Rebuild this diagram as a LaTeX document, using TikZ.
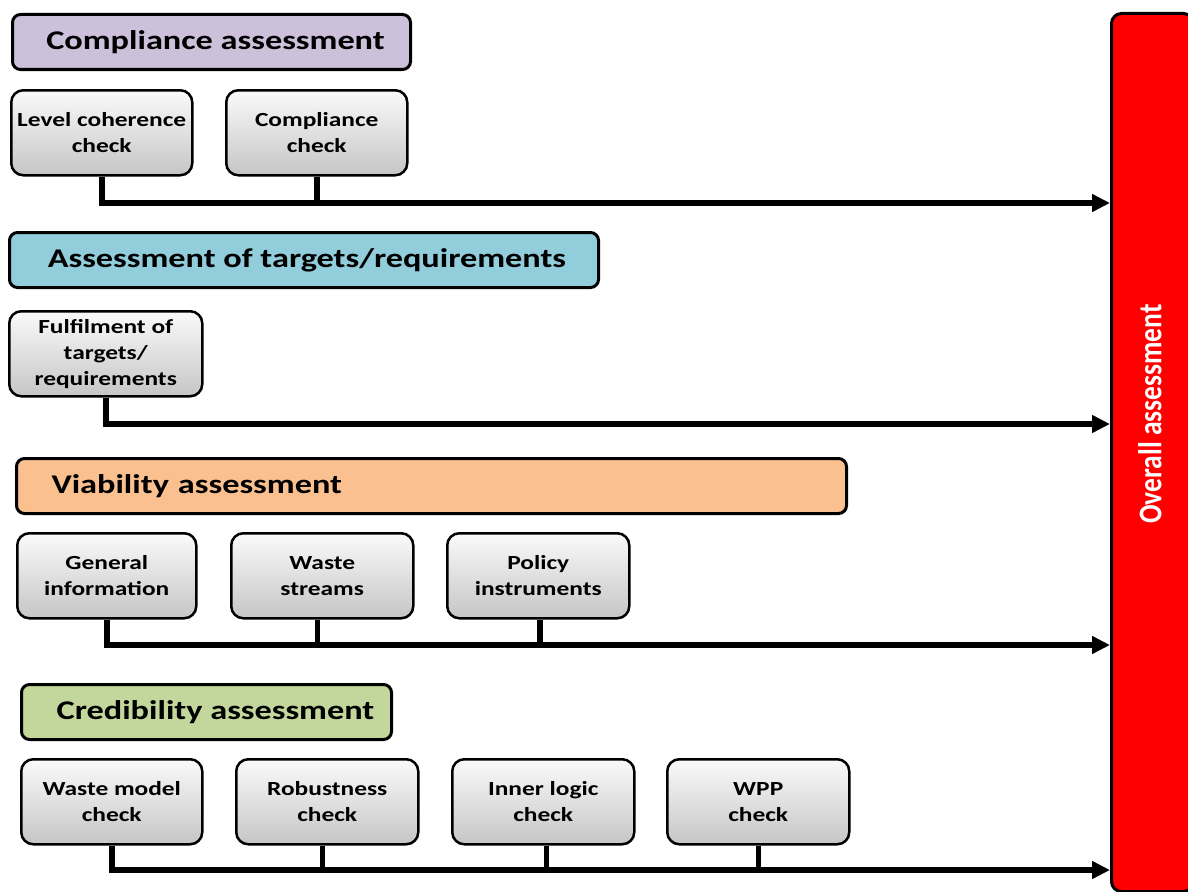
\documentclass[tikz,border=0pt]{standalone}
\usepackage{fontspec}
\setmainfont{Carlito}
\newfontfamily\wideb[FakeStretch=1.27]{Carlito}
\usetikzlibrary{arrows.meta}
\definecolor{lav}{HTML}{CCC0DA}
\definecolor{cyanh}{HTML}{92CDDC}
\definecolor{orah}{HTML}{FAC090}
\definecolor{greh}{HTML}{C3D69B}
\definecolor{redbar}{HTML}{FF0000}
\begin{document}
\begin{tikzpicture}[x=1pt,y=-1pt,
  header/.style={draw=black, line width=3pt, rounded corners=8pt, anchor=north west,
    minimum height=55pt, inner sep=0pt, font=\wideb\bfseries\fontsize{27}{30}\selectfont},
  checkbox/.style={draw=black, line width=2.5pt, rounded corners=12pt, anchor=north west,
    minimum width=181pt, minimum height=85pt, inner sep=0pt, align=center,
    top color=gray!4, bottom color=gray!45,
    font=\wideb\bfseries\fontsize{20}{26}\selectfont},
  conn/.style={draw=black, line width=5.5pt, line join=miter},
  arr/.style={conn, -{Triangle[length=18pt,width=17pt]}}
]
\useasboundingbox (0,0) rectangle (1188,891);

% overall bar
\node[draw=black, line width=3pt, fill=redbar, rounded corners=10pt, anchor=north west,
  minimum width=82pt, minimum height=878pt, inner sep=0pt] (bar) at (1110,12) {};
\node[rotate=90, text=white, font=\bfseries\fontsize{27.5}{30}\selectfont] (ovl) at (1150,414)
  {\scalebox{1}[1.2]{Overall assessment}};

% headers
\node[header, fill=lav, minimum width=398pt] (h1) at (11,13) {\hspace*{8pt}Compliance assessment};
\node[header, fill=cyanh, minimum width=589pt] (h2) at (8,231) {\hspace*{6pt}Assessment of targets/requirements};
\node[header, fill=orah, align=left, text width=760pt, inner xsep=35pt] (h3) at (15,457) {Viability assessment};
\node[header, fill=greh, minimum width=370pt] (h4) at (20,683) {\hspace*{18pt}Credibility assessment};

% row 1
\node[checkbox] (a1) at (10,89) {Level coherence\\check};
\node[checkbox] (a2) at (225,89) {Compliance\\check};
% row 2
\node[checkbox, minimum width=193pt] (b1) at (8,310) {Fulfilment of\\targets/\\requirements};
% row 3
\node[checkbox, minimum width=179pt] (c1) at (16,532) {General\\information};
\node[checkbox, minimum width=182pt] (c2) at (230,532) {Waste\\streams};
\node[checkbox, minimum width=182pt] (c3) at (446,532) {Policy\\instruments};
% row 4
\node[checkbox] (d1) at (20,758) {Waste model\\check};
\node[checkbox, minimum width=182pt] (d2) at (235,758) {Robustness\\check};
\node[checkbox, minimum width=182pt] (d3) at (451,758) {Inner logic\\check};
\node[checkbox, minimum width=182pt] (d4) at (666,758) {WPP\\check};

% arrow ends on the bar
\coordinate (r1) at (1110,203);
\coordinate (r2) at (1110,424);
\coordinate (r3) at (1110,645);
\coordinate (r4) at (1110,870);

% connectors
\draw[arr] (a1.south) |- (r1);
\draw[conn] (a2.south) -- (a2.south |- r1);

\draw[arr] (b1.south) |- (r2);

\draw[arr] (c1.south) |- (r3);
\draw[conn] ([xshift=-5pt]c2.south) -- ([xshift=-5pt]c2.south |- r3);
\draw[conn] ([xshift=1.5pt]c3.south) -- ([xshift=1.5pt]c3.south |- r3);

\draw[arr] (d1.south) |- (r4);
\draw[conn] ([xshift=-5pt]d2.south) -- ([xshift=-5pt]d2.south |- r4);
\draw[conn] ([xshift=3pt]d3.south) -- ([xshift=3pt]d3.south |- r4);
\draw[conn] (d4.south) -- (d4.south |- r4);
\end{tikzpicture}
\end{document}
